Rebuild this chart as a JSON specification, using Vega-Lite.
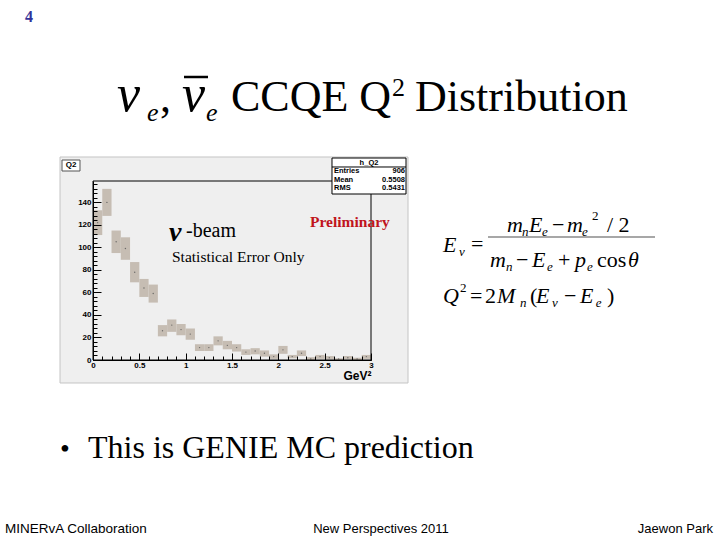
{
  "$schema": "https://vega.github.io/schema/vega-lite/v6.json",
  "autosize": {"type": "none"},
  "width": 278,
  "height": 179,
  "padding": {"left": 93, "top": 181, "right": 349, "bottom": 180},
  "background": "white",
  "config": {"view": {"stroke": null}},
  "resolve": {"axis": {"x": "independent", "y": "independent"}},
  "data": {"values": [{}]},
  "datasets": {
    "hist": [
      {"q2_lo":0.0,"q2_hi":0.1,"q2":0.05,"count":122,"lo":111,"hi":133},
      {"q2_lo":0.1,"q2_hi":0.2,"q2":0.15,"count":140,"lo":128,"hi":152},
      {"q2_lo":0.2,"q2_hi":0.3,"q2":0.25,"count":105,"lo":95,"hi":115},
      {"q2_lo":0.3,"q2_hi":0.4,"q2":0.35,"count":99,"lo":89,"hi":109},
      {"q2_lo":0.4,"q2_hi":0.5,"q2":0.45,"count":78,"lo":69,"hi":87},
      {"q2_lo":0.5,"q2_hi":0.6,"q2":0.55,"count":64,"lo":56,"hi":72},
      {"q2_lo":0.6,"q2_hi":0.7,"q2":0.65,"count":59,"lo":51,"hi":67},
      {"q2_lo":0.7,"q2_hi":0.8,"q2":0.75,"count":26,"lo":21,"hi":31},
      {"q2_lo":0.8,"q2_hi":0.9,"q2":0.85,"count":31,"lo":25,"hi":36},
      {"q2_lo":0.9,"q2_hi":1.0,"q2":0.95,"count":27,"lo":22,"hi":32},
      {"q2_lo":1.0,"q2_hi":1.1,"q2":1.05,"count":23,"lo":18,"hi":28},
      {"q2_lo":1.1,"q2_hi":1.2,"q2":1.15,"count":11,"lo":8,"hi":14},
      {"q2_lo":1.2,"q2_hi":1.3,"q2":1.25,"count":11,"lo":8,"hi":14},
      {"q2_lo":1.3,"q2_hi":1.4,"q2":1.35,"count":17,"lo":13,"hi":21},
      {"q2_lo":1.4,"q2_hi":1.5,"q2":1.45,"count":13,"lo":9.5,"hi":17},
      {"q2_lo":1.5,"q2_hi":1.6,"q2":1.55,"count":11,"lo":7.5,"hi":14},
      {"q2_lo":1.6,"q2_hi":1.7,"q2":1.65,"count":7,"lo":4.5,"hi":9.5},
      {"q2_lo":1.7,"q2_hi":1.8,"q2":1.75,"count":8,"lo":5,"hi":10.5},
      {"q2_lo":1.8,"q2_hi":1.9,"q2":1.85,"count":6,"lo":3,"hi":8.5},
      {"q2_lo":1.9,"q2_hi":2.0,"q2":1.95,"count":3,"lo":1,"hi":5},
      {"q2_lo":2.0,"q2_hi":2.1,"q2":2.05,"count":9,"lo":5.5,"hi":12.5},
      {"q2_lo":2.1,"q2_hi":2.2,"q2":2.15,"count":3,"lo":1.5,"hi":4.5},
      {"q2_lo":2.2,"q2_hi":2.3,"q2":2.25,"count":6,"lo":3.5,"hi":8.5},
      {"q2_lo":2.3,"q2_hi":2.4,"q2":2.35,"count":1,"lo":0,"hi":2.5},
      {"q2_lo":2.4,"q2_hi":2.5,"q2":2.45,"count":3,"lo":1,"hi":4.5},
      {"q2_lo":2.5,"q2_hi":2.6,"q2":2.55,"count":2,"lo":0.5,"hi":3.5},
      {"q2_lo":2.6,"q2_hi":2.7,"q2":2.65,"count":1,"lo":0,"hi":1.5},
      {"q2_lo":2.7,"q2_hi":2.8,"q2":2.75,"count":2,"lo":0.5,"hi":3.5},
      {"q2_lo":2.8,"q2_hi":2.9,"q2":2.85,"count":1,"lo":0,"hi":2},
      {"q2_lo":2.9,"q2_hi":3.0,"q2":2.95,"count":3,"lo":1,"hi":4.5}
    ]
  },
  "layer": [
    {
      "mark": {"type": "rect", "fill": "#efefef", "stroke": "#c4c4c4", "strokeWidth": 1},
      "encoding": {
        "x": {"datum": -0.3561, "type": "quantitative", "scale": {"domain": [0, 3], "nice": false, "zero": false},
          "axis": {"orient": "bottom", "values": [0,0.1,0.2,0.3,0.4,0.5,0.6,0.7,0.8,0.9,1,1.1,1.2,1.3,1.4,1.5,1.6,1.7,1.8,1.9,2,2.1,2.2,2.3,2.4,2.5,2.6,2.7,2.8,2.9,3], "labels": false, "domain": false, "grid": false, "tickSize": -4, "tickColor": "black", "title": null, "zindex": 2}},
        "x2": {"datum": 3.3993},
        "y": {"datum": 180.32, "type": "quantitative", "scale": {"domain": [0, 159], "nice": false, "zero": false},
          "axis": {"orient": "left", "values": [0,4,8,12,16,24,28,32,36,44,48,52,56,64,68,72,76,84,88,92,96,104,108,112,116,124,128,132,136,144,148,152,156], "labels": false, "domain": false, "grid": false, "tickSize": -4, "tickColor": "black", "title": null, "zindex": 2}},
        "y2": {"datum": -20.43}
      }
    },
    {
      "data": {"name": "hist"},
      "mark": {"type": "rect", "fill": "#c6bdb3"},
      "encoding": {
        "x": {"field": "q2_lo", "type": "quantitative", "scale": {"domain": [0, 3], "nice": false, "zero": false},
          "axis": {"orient": "bottom", "values": [0,0.5,1,1.5,2,2.5,3], "format": "~g", "ticks": false, "grid": false, "domain": true, "domainColor": "black", "labelFont": "Liberation Sans", "labelFontWeight": "bold", "labelFontSize": 8, "labelColor": "black", "labelPadding": 1, "labelFlush": false, "title": "GeV²", "titleAnchor": "end", "titleFont": "Liberation Sans", "titleFontSize": 12, "titleFontWeight": "bold", "titleColor": "black", "titlePadding": 1, "zindex": 2}},
        "x2": {"field": "q2_hi"},
        "y": {"field": "lo", "type": "quantitative", "scale": {"domain": [0, 159], "nice": false, "zero": false},
          "axis": {"orient": "left", "values": [0,20,40,60,80,100,120,140], "ticks": false, "grid": false, "domain": true, "domainColor": "black", "labelFont": "Liberation Sans", "labelFontWeight": "bold", "labelFontSize": 8, "labelColor": "black", "labelPadding": 2, "labelFlush": false, "title": null, "zindex": 2}},
        "y2": {"field": "hi"}
      }
    },
    {
      "data": {"name": "hist"},
      "mark": {"type": "point", "filled": true, "size": 2, "color": "#555555", "opacity": 0.8},
      "encoding": {
        "x": {"field": "q2", "type": "quantitative", "scale": {"domain": [0, 3], "nice": false, "zero": false},
          "axis": {"orient": "bottom", "values": [0,0.5,1,1.5,2,2.5,3], "labels": false, "domain": false, "grid": false, "tickSize": -7, "tickColor": "black", "title": null, "zindex": 2}},
        "y": {"field": "count", "type": "quantitative", "scale": {"domain": [0, 159], "nice": false, "zero": false},
          "axis": {"orient": "left", "values": [0,20,40,60,80,100,120,140], "labels": false, "domain": false, "grid": false, "tickSize": -8, "tickColor": "black", "title": null, "zindex": 2}}
      }
    },
    {
      "mark": {"type": "rect", "fillOpacity": 0, "stroke": "black", "strokeWidth": 1},
      "encoding": {
        "x": {"datum": 0, "type": "quantitative", "axis": null},
        "x2": {"datum": 3},
        "y": {"datum": 0, "type": "quantitative", "axis": null},
        "y2": {"datum": 159}
      }
    },
    {
      "mark": {"type": "rect", "fill": "white", "stroke": "black", "strokeWidth": 1},
      "encoding": {
        "x": {"datum": 2.5791, "type": "quantitative", "axis": null},
        "x2": {"datum": 3.3777},
        "y": {"datum": 179.43, "type": "quantitative", "axis": null},
        "y2": {"datum": 147.45}
      }
    },
    {
      "mark": {"type": "rule", "color": "black", "strokeWidth": 1},
      "encoding": {
        "x": {"datum": 2.5791, "type": "quantitative", "axis": null},
        "x2": {"datum": 3.3777},
        "y": {"datum": 171.44, "type": "quantitative", "axis": null}
      }
    },
    {
      "mark": {"type": "rect", "fill": "white", "stroke": "#555555", "strokeWidth": 1},
      "encoding": {
        "x": {"datum": -0.3345, "type": "quantitative", "axis": null},
        "x2": {"datum": -0.1403},
        "y": {"datum": 177.65, "type": "quantitative", "axis": null},
        "y2": {"datum": 167.88}
      }
    },
    {
      "mark": {"type": "text", "font": "Liberation Sans", "fontWeight": "bold", "fontSize": 8, "align": "center", "baseline": "middle", "color": "black"},
      "encoding": {"x": {"datum": -0.2374, "type": "quantitative", "axis": null}, "y": {"datum": 172.77, "type": "quantitative", "axis": null}, "text": {"value": "Q2"}}
    },
    {
      "mark": {"type": "text", "font": "Liberation Sans", "fontWeight": "bold", "fontSize": 7.5, "align": "center", "baseline": "middle", "color": "black"},
      "encoding": {"x": {"datum": 2.9784, "type": "quantitative", "axis": null}, "y": {"datum": 174.99, "type": "quantitative", "axis": null}, "text": {"value": "h_Q2"}}
    },
    {
      "mark": {"type": "text", "font": "Liberation Sans", "fontWeight": "bold", "fontSize": 7.5, "align": "left", "baseline": "middle", "color": "black"},
      "encoding": {"x": {"datum": 2.6007, "type": "quantitative", "axis": null}, "y": {"datum": 167.44, "type": "quantitative", "axis": null}, "text": {"value": "Entries"}}
    },
    {
      "mark": {"type": "text", "font": "Liberation Sans", "fontWeight": "bold", "fontSize": 7.5, "align": "left", "baseline": "middle", "color": "black"},
      "encoding": {"x": {"datum": 2.6007, "type": "quantitative", "axis": null}, "y": {"datum": 159.89, "type": "quantitative", "axis": null}, "text": {"value": "Mean"}}
    },
    {
      "mark": {"type": "text", "font": "Liberation Sans", "fontWeight": "bold", "fontSize": 7.5, "align": "left", "baseline": "middle", "color": "black"},
      "encoding": {"x": {"datum": 2.6007, "type": "quantitative", "axis": null}, "y": {"datum": 152.34, "type": "quantitative", "axis": null}, "text": {"value": "RMS"}}
    },
    {
      "mark": {"type": "text", "font": "Liberation Sans", "fontWeight": "bold", "fontSize": 7.5, "align": "right", "baseline": "middle", "color": "black"},
      "encoding": {"x": {"datum": 3.3669, "type": "quantitative", "axis": null}, "y": {"datum": 167.44, "type": "quantitative", "axis": null}, "text": {"value": "906"}}
    },
    {
      "mark": {"type": "text", "font": "Liberation Sans", "fontWeight": "bold", "fontSize": 7.5, "align": "right", "baseline": "middle", "color": "black"},
      "encoding": {"x": {"datum": 3.3669, "type": "quantitative", "axis": null}, "y": {"datum": 159.89, "type": "quantitative", "axis": null}, "text": {"value": "0.5508"}}
    },
    {
      "mark": {"type": "text", "font": "Liberation Sans", "fontWeight": "bold", "fontSize": 7.5, "align": "right", "baseline": "middle", "color": "black"},
      "encoding": {"x": {"datum": 3.3669, "type": "quantitative", "axis": null}, "y": {"datum": 152.34, "type": "quantitative", "axis": null}, "text": {"value": "0.5431"}}
    },
    {
      "mark": {"type": "text", "font": "Liberation Serif", "fontStyle": "italic", "fontWeight": "bold", "fontSize": 28, "align": "left", "baseline": "alphabetic", "color": "black"},
      "encoding": {"x": {"datum": 0.8201, "type": "quantitative", "axis": null}, "y": {"datum": 105.70, "type": "quantitative", "axis": null}, "text": {"value": "ν"}}
    },
    {
      "mark": {"type": "text", "font": "Liberation Serif", "fontSize": 20, "align": "left", "baseline": "alphabetic", "color": "black"},
      "encoding": {"x": {"datum": 1.0036, "type": "quantitative", "axis": null}, "y": {"datum": 109.26, "type": "quantitative", "axis": null}, "text": {"value": "-beam"}}
    },
    {
      "mark": {"type": "text", "font": "Liberation Serif", "fontSize": 15.5, "align": "left", "baseline": "alphabetic", "color": "black"},
      "encoding": {"x": {"datum": 0.8525, "type": "quantitative", "axis": null}, "y": {"datum": 87.05, "type": "quantitative", "axis": null}, "text": {"value": "Statistical Error Only"}}
    },
    {
      "mark": {"type": "text", "font": "Liberation Serif", "fontWeight": "bold", "fontSize": 15.5, "align": "left", "baseline": "alphabetic", "color": "#c0141c"},
      "encoding": {"x": {"datum": 2.3417, "type": "quantitative", "axis": null}, "y": {"datum": 118.58, "type": "quantitative", "axis": null}, "text": {"value": "Preliminary"}}
    },
    {
      "mark": {"type": "text", "font": "Liberation Serif", "fontWeight": "bold", "fontSize": 16, "align": "left", "baseline": "alphabetic", "color": "#333399"},
      "encoding": {"x": {"datum": -0.7338, "type": "quantitative", "axis": null}, "y": {"datum": 300.23, "type": "quantitative", "axis": null}, "text": {"value": "4"}}
    },
    {
      "mark": {"type": "text", "font": "Liberation Serif", "fontStyle": "italic", "fontSize": 52, "align": "left", "baseline": "alphabetic", "color": "black"},
      "encoding": {"x": {"datum": 0.2590, "type": "quantitative", "axis": null}, "y": {"datum": 221.18, "type": "quantitative", "axis": null}, "text": {"value": "ν"}}
    },
    {
      "mark": {"type": "text", "font": "Liberation Serif", "fontStyle": "italic", "fontSize": 26, "align": "left", "baseline": "alphabetic", "color": "black"},
      "encoding": {"x": {"datum": 0.5827, "type": "quantitative", "axis": null}, "y": {"datum": 212.30, "type": "quantitative", "axis": null}, "text": {"value": "e"}}
    },
    {
      "mark": {"type": "text", "font": "Liberation Serif", "fontSize": 44, "align": "left", "baseline": "alphabetic", "color": "black"},
      "encoding": {"x": {"datum": 0.7230, "type": "quantitative", "axis": null}, "y": {"datum": 220.29, "type": "quantitative", "axis": null}, "text": {"value": ","}}
    },
    {
      "mark": {"type": "text", "font": "Liberation Serif", "fontStyle": "italic", "fontSize": 52, "align": "left", "baseline": "alphabetic", "color": "black"},
      "encoding": {"x": {"datum": 0.9604, "type": "quantitative", "axis": null}, "y": {"datum": 221.18, "type": "quantitative", "axis": null}, "text": {"value": "ν"}}
    },
    {
      "mark": {"type": "rule", "color": "black", "strokeWidth": 2.5},
      "encoding": {"x": {"datum": 0.9820, "type": "quantitative", "axis": null}, "x2": {"datum": 1.2410}, "y": {"datum": 251.38, "type": "quantitative", "axis": null}}
    },
    {
      "mark": {"type": "text", "font": "Liberation Serif", "fontStyle": "italic", "fontSize": 26, "align": "left", "baseline": "alphabetic", "color": "black"},
      "encoding": {"x": {"datum": 1.2194, "type": "quantitative", "axis": null}, "y": {"datum": 212.30, "type": "quantitative", "axis": null}, "text": {"value": "e"}}
    },
    {
      "mark": {"type": "text", "font": "Liberation Serif", "fontSize": 44, "align": "left", "baseline": "alphabetic", "color": "black"},
      "encoding": {"x": {"datum": 1.4892, "type": "quantitative", "axis": null}, "y": {"datum": 221.18, "type": "quantitative", "axis": null}, "text": {"value": "CCQE Q"}}
    },
    {
      "mark": {"type": "text", "font": "Liberation Serif", "fontSize": 26, "align": "left", "baseline": "alphabetic", "color": "black"},
      "encoding": {"x": {"datum": 3.2266, "type": "quantitative", "axis": null}, "y": {"datum": 234.50, "type": "quantitative", "axis": null}, "text": {"value": "2"}}
    },
    {
      "mark": {"type": "text", "font": "Liberation Serif", "fontSize": 44, "align": "left", "baseline": "alphabetic", "color": "black"},
      "encoding": {"x": {"datum": 3.4748, "type": "quantitative", "axis": null}, "y": {"datum": 221.18, "type": "quantitative", "axis": null}, "text": {"value": "Distribution"}}
    },
    {
      "mark": {"type": "text", "font": "Liberation Serif", "fontStyle": "italic", "fontSize": 22, "align": "left", "baseline": "alphabetic", "color": "black"},
      "encoding": {"x": {"datum": 3.7770, "type": "quantitative", "axis": null}, "y": {"datum": 95.93, "type": "quantitative", "axis": null}, "text": {"value": "E"}}
    },
    {
      "mark": {"type": "text", "font": "Liberation Serif", "fontStyle": "italic", "fontSize": 13, "align": "left", "baseline": "alphabetic", "color": "black"},
      "encoding": {"x": {"datum": 3.9497, "type": "quantitative", "axis": null}, "y": {"datum": 92.38, "type": "quantitative", "axis": null}, "text": {"value": "ν"}}
    },
    {
      "mark": {"type": "text", "font": "Liberation Serif", "fontSize": 22, "align": "left", "baseline": "alphabetic", "color": "black"},
      "encoding": {"x": {"datum": 4.0791, "type": "quantitative", "axis": null}, "y": {"datum": 96.82, "type": "quantitative", "axis": null}, "text": {"value": "="}}
    },
    {
      "mark": {"type": "rule", "color": "#8a8a8a", "strokeWidth": 1.5},
      "encoding": {"x": {"datum": 4.2626, "type": "quantitative", "axis": null}, "x2": {"datum": 6.0648}, "y": {"datum": 109.26, "type": "quantitative", "axis": null}}
    },
    {
      "mark": {"type": "text", "font": "Liberation Serif", "fontStyle": "italic", "fontSize": 22, "align": "left", "baseline": "alphabetic", "color": "black"},
      "encoding": {"x": {"datum": 4.4676, "type": "quantitative", "axis": null}, "y": {"datum": 113.70, "type": "quantitative", "axis": null}, "text": {"value": "m"}}
    },
    {
      "mark": {"type": "text", "font": "Liberation Serif", "fontStyle": "italic", "fontSize": 13, "align": "left", "baseline": "alphabetic", "color": "black"},
      "encoding": {"x": {"datum": 4.6295, "type": "quantitative", "axis": null}, "y": {"datum": 110.15, "type": "quantitative", "axis": null}, "text": {"value": "n"}}
    },
    {
      "mark": {"type": "text", "font": "Liberation Serif", "fontStyle": "italic", "fontSize": 22, "align": "left", "baseline": "alphabetic", "color": "black"},
      "encoding": {"x": {"datum": 4.7051, "type": "quantitative", "axis": null}, "y": {"datum": 113.70, "type": "quantitative", "axis": null}, "text": {"value": "E"}}
    },
    {
      "mark": {"type": "text", "font": "Liberation Serif", "fontStyle": "italic", "fontSize": 13, "align": "left", "baseline": "alphabetic", "color": "black"},
      "encoding": {"x": {"datum": 4.8454, "type": "quantitative", "axis": null}, "y": {"datum": 110.15, "type": "quantitative", "axis": null}, "text": {"value": "e"}}
    },
    {
      "mark": {"type": "text", "font": "Liberation Serif", "fontSize": 22, "align": "left", "baseline": "alphabetic", "color": "black"},
      "encoding": {"x": {"datum": 4.9533, "type": "quantitative", "axis": null}, "y": {"datum": 113.70, "type": "quantitative", "axis": null}, "text": {"value": "−"}}
    },
    {
      "mark": {"type": "text", "font": "Liberation Serif", "fontStyle": "italic", "fontSize": 22, "align": "left", "baseline": "alphabetic", "color": "black"},
      "encoding": {"x": {"datum": 5.1152, "type": "quantitative", "axis": null}, "y": {"datum": 113.70, "type": "quantitative", "axis": null}, "text": {"value": "m"}}
    },
    {
      "mark": {"type": "text", "font": "Liberation Serif", "fontStyle": "italic", "fontSize": 13, "align": "left", "baseline": "alphabetic", "color": "black"},
      "encoding": {"x": {"datum": 5.2770, "type": "quantitative", "axis": null}, "y": {"datum": 110.15, "type": "quantitative", "axis": null}, "text": {"value": "e"}}
    },
    {
      "mark": {"type": "text", "font": "Liberation Serif", "fontSize": 13, "align": "left", "baseline": "alphabetic", "color": "black"},
      "encoding": {"x": {"datum": 5.3849, "type": "quantitative", "axis": null}, "y": {"datum": 124.36, "type": "quantitative", "axis": null}, "text": {"value": "2"}}
    },
    {
      "mark": {"type": "text", "font": "Liberation Serif", "fontSize": 22, "align": "left", "baseline": "alphabetic", "color": "black"},
      "encoding": {"x": {"datum": 5.5468, "type": "quantitative", "axis": null}, "y": {"datum": 113.70, "type": "quantitative", "axis": null}, "text": {"value": "/ 2"}}
    },
    {
      "mark": {"type": "text", "font": "Liberation Serif", "fontStyle": "italic", "fontSize": 22, "align": "left", "baseline": "alphabetic", "color": "black"},
      "encoding": {"x": {"datum": 4.2842, "type": "quantitative", "axis": null}, "y": {"datum": 82.61, "type": "quantitative", "axis": null}, "text": {"value": "m"}}
    },
    {
      "mark": {"type": "text", "font": "Liberation Serif", "fontStyle": "italic", "fontSize": 13, "align": "left", "baseline": "alphabetic", "color": "black"},
      "encoding": {"x": {"datum": 4.4568, "type": "quantitative", "axis": null}, "y": {"datum": 79.06, "type": "quantitative", "axis": null}, "text": {"value": "n"}}
    },
    {
      "mark": {"type": "text", "font": "Liberation Serif", "fontSize": 22, "align": "left", "baseline": "alphabetic", "color": "black"},
      "encoding": {"x": {"datum": 4.5648, "type": "quantitative", "axis": null}, "y": {"datum": 82.61, "type": "quantitative", "axis": null}, "text": {"value": "−"}}
    },
    {
      "mark": {"type": "text", "font": "Liberation Serif", "fontStyle": "italic", "fontSize": 22, "align": "left", "baseline": "alphabetic", "color": "black"},
      "encoding": {"x": {"datum": 4.7374, "type": "quantitative", "axis": null}, "y": {"datum": 82.61, "type": "quantitative", "axis": null}, "text": {"value": "E"}}
    },
    {
      "mark": {"type": "text", "font": "Liberation Serif", "fontStyle": "italic", "fontSize": 13, "align": "left", "baseline": "alphabetic", "color": "black"},
      "encoding": {"x": {"datum": 4.8993, "type": "quantitative", "axis": null}, "y": {"datum": 79.06, "type": "quantitative", "axis": null}, "text": {"value": "e"}}
    },
    {
      "mark": {"type": "text", "font": "Liberation Serif", "fontSize": 22, "align": "left", "baseline": "alphabetic", "color": "black"},
      "encoding": {"x": {"datum": 5.0180, "type": "quantitative", "axis": null}, "y": {"datum": 82.61, "type": "quantitative", "axis": null}, "text": {"value": "+"}}
    },
    {
      "mark": {"type": "text", "font": "Liberation Serif", "fontStyle": "italic", "fontSize": 22, "align": "left", "baseline": "alphabetic", "color": "black"},
      "encoding": {"x": {"datum": 5.2014, "type": "quantitative", "axis": null}, "y": {"datum": 82.61, "type": "quantitative", "axis": null}, "text": {"value": "p"}}
    },
    {
      "mark": {"type": "text", "font": "Liberation Serif", "fontStyle": "italic", "fontSize": 13, "align": "left", "baseline": "alphabetic", "color": "black"},
      "encoding": {"x": {"datum": 5.3309, "type": "quantitative", "axis": null}, "y": {"datum": 79.06, "type": "quantitative", "axis": null}, "text": {"value": "e"}}
    },
    {
      "mark": {"type": "text", "font": "Liberation Serif", "fontSize": 22, "align": "left", "baseline": "alphabetic", "color": "black"},
      "encoding": {"x": {"datum": 5.4389, "type": "quantitative", "axis": null}, "y": {"datum": 82.61, "type": "quantitative", "axis": null}, "text": {"value": "cos"}}
    },
    {
      "mark": {"type": "text", "font": "Liberation Serif", "fontStyle": "italic", "fontSize": 22, "align": "left", "baseline": "alphabetic", "color": "black"},
      "encoding": {"x": {"datum": 5.7734, "type": "quantitative", "axis": null}, "y": {"datum": 82.61, "type": "quantitative", "axis": null}, "text": {"value": "θ"}}
    },
    {
      "mark": {"type": "text", "font": "Liberation Serif", "fontStyle": "italic", "fontSize": 22, "align": "left", "baseline": "alphabetic", "color": "black"},
      "encoding": {"x": {"datum": 3.7770, "type": "quantitative", "axis": null}, "y": {"datum": 50.63, "type": "quantitative", "axis": null}, "text": {"value": "Q"}}
    },
    {
      "mark": {"type": "text", "font": "Liberation Serif", "fontSize": 13, "align": "left", "baseline": "alphabetic", "color": "black"},
      "encoding": {"x": {"datum": 3.9604, "type": "quantitative", "axis": null}, "y": {"datum": 60.40, "type": "quantitative", "axis": null}, "text": {"value": "2"}}
    },
    {
      "mark": {"type": "text", "font": "Liberation Serif", "fontSize": 22, "align": "left", "baseline": "alphabetic", "color": "black"},
      "encoding": {"x": {"datum": 4.0683, "type": "quantitative", "axis": null}, "y": {"datum": 50.63, "type": "quantitative", "axis": null}, "text": {"value": "="}}
    },
    {
      "mark": {"type": "text", "font": "Liberation Serif", "fontSize": 22, "align": "left", "baseline": "alphabetic", "color": "black"},
      "encoding": {"x": {"datum": 4.2302, "type": "quantitative", "axis": null}, "y": {"datum": 50.63, "type": "quantitative", "axis": null}, "text": {"value": "2"}}
    },
    {
      "mark": {"type": "text", "font": "Liberation Serif", "fontStyle": "italic", "fontSize": 22, "align": "left", "baseline": "alphabetic", "color": "black"},
      "encoding": {"x": {"datum": 4.3597, "type": "quantitative", "axis": null}, "y": {"datum": 50.63, "type": "quantitative", "axis": null}, "text": {"value": "M"}}
    },
    {
      "mark": {"type": "text", "font": "Liberation Serif", "fontStyle": "italic", "fontSize": 13, "align": "left", "baseline": "alphabetic", "color": "black"},
      "encoding": {"x": {"datum": 4.6079, "type": "quantitative", "axis": null}, "y": {"datum": 47.08, "type": "quantitative", "axis": null}, "text": {"value": "n"}}
    },
    {
      "mark": {"type": "text", "font": "Liberation Serif", "fontSize": 22, "align": "left", "baseline": "alphabetic", "color": "black"},
      "encoding": {"x": {"datum": 4.7158, "type": "quantitative", "axis": null}, "y": {"datum": 50.63, "type": "quantitative", "axis": null}, "text": {"value": "("}}
    },
    {
      "mark": {"type": "text", "font": "Liberation Serif", "fontStyle": "italic", "fontSize": 22, "align": "left", "baseline": "alphabetic", "color": "black"},
      "encoding": {"x": {"datum": 4.7806, "type": "quantitative", "axis": null}, "y": {"datum": 50.63, "type": "quantitative", "axis": null}, "text": {"value": "E"}}
    },
    {
      "mark": {"type": "text", "font": "Liberation Serif", "fontStyle": "italic", "fontSize": 13, "align": "left", "baseline": "alphabetic", "color": "black"},
      "encoding": {"x": {"datum": 4.9532, "type": "quantitative", "axis": null}, "y": {"datum": 47.08, "type": "quantitative", "axis": null}, "text": {"value": "ν"}}
    },
    {
      "mark": {"type": "text", "font": "Liberation Serif", "fontSize": 22, "align": "left", "baseline": "alphabetic", "color": "black"},
      "encoding": {"x": {"datum": 5.0827, "type": "quantitative", "axis": null}, "y": {"datum": 50.63, "type": "quantitative", "axis": null}, "text": {"value": "−"}}
    },
    {
      "mark": {"type": "text", "font": "Liberation Serif", "fontStyle": "italic", "fontSize": 22, "align": "left", "baseline": "alphabetic", "color": "black"},
      "encoding": {"x": {"datum": 5.2554, "type": "quantitative", "axis": null}, "y": {"datum": 50.63, "type": "quantitative", "axis": null}, "text": {"value": "E"}}
    },
    {
      "mark": {"type": "text", "font": "Liberation Serif", "fontStyle": "italic", "fontSize": 13, "align": "left", "baseline": "alphabetic", "color": "black"},
      "encoding": {"x": {"datum": 5.4245, "type": "quantitative", "axis": null}, "y": {"datum": 47.08, "type": "quantitative", "axis": null}, "text": {"value": "e"}}
    },
    {
      "mark": {"type": "text", "font": "Liberation Serif", "fontSize": 22, "align": "left", "baseline": "alphabetic", "color": "black"},
      "encoding": {"x": {"datum": 5.5468, "type": "quantitative", "axis": null}, "y": {"datum": 50.63, "type": "quantitative", "axis": null}, "text": {"value": ")"}}
    },
    {
      "mark": {"type": "text", "font": "Liberation Serif", "fontSize": 28, "align": "left", "baseline": "alphabetic", "color": "black"},
      "encoding": {"x": {"datum": -0.3561, "type": "quantitative", "axis": null}, "y": {"datum": -87.05, "type": "quantitative", "axis": null}, "text": {"value": "•"}}
    },
    {
      "mark": {"type": "text", "font": "Liberation Serif", "fontSize": 32, "align": "left", "baseline": "alphabetic", "color": "black"},
      "encoding": {"x": {"datum": -0.0540, "type": "quantitative", "axis": null}, "y": {"datum": -87.05, "type": "quantitative", "axis": null}, "text": {"value": "This is GENIE MC prediction"}}
    },
    {
      "mark": {"type": "text", "font": "Liberation Sans", "fontSize": 13.5, "align": "left", "baseline": "alphabetic", "color": "black"},
      "encoding": {"x": {"datum": -0.9496, "type": "quantitative", "axis": null}, "y": {"datum": -153.67, "type": "quantitative", "axis": null}, "text": {"value": "MINERvA Collaboration"}}
    },
    {
      "mark": {"type": "text", "font": "Liberation Sans", "fontSize": 13, "align": "center", "baseline": "alphabetic", "color": "black"},
      "encoding": {"x": {"datum": 3.1079, "type": "quantitative", "axis": null}, "y": {"datum": -153.67, "type": "quantitative", "axis": null}, "text": {"value": "New Perspectives 2011"}}
    },
    {
      "mark": {"type": "text", "font": "Liberation Sans", "fontSize": 13, "align": "right", "baseline": "alphabetic", "color": "black"},
      "encoding": {"x": {"datum": 6.6907, "type": "quantitative", "axis": null}, "y": {"datum": -153.67, "type": "quantitative", "axis": null}, "text": {"value": "Jaewon Park"}}
    }
  ]
}
